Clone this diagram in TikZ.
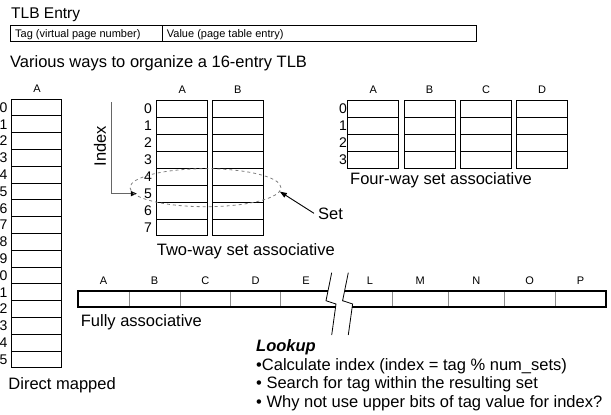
\documentclass[tikz,border=0pt]{standalone}
\usepackage{fontspec}
\setmainfont{Liberation Sans}
\usetikzlibrary{arrows.meta,shapes.geometric}
\newcommand\fsz[1]{\fontsize{#1}{#1}\selectfont}
\begin{document}
\begin{tikzpicture}[x=1pt,y=-1pt,
  big/.style={font=\fsz{16.5}, inner sep=0pt, anchor=base west},
  small/.style={font=\fsz{11}, inner sep=0pt},
  digit/.style={font=\fsz{14}, inner sep=0pt},
  cell/.style={line width=0.9pt, draw=black},
  thickbox/.style={line width=2pt, draw=black},
  divider/.style={line width=1pt, draw=black!45},
  zig/.style={line width=0.8pt, draw=black},
  tipA/.style={-{Triangle[length=6pt,width=5pt,color=black]}},
]
\useasboundingbox (0,0) rectangle (611,415);

% TLB entry
\node[big, font=\fsz{15.5}] (entry) at (11,18.3) {TLB Entry};
\draw[cell] (10,25) rectangle (476,41.7);
\draw[cell] (162,25) -- (162,41.7);
\node[small, anchor=base west] (tagtxt) at (15,37.3) {Tag (virtual page number)};
\node[small, anchor=base west] (valtxt) at (166.7,37.3) {Value (page table entry)};

\node[big] (various) at (10,67) {Various ways to organize a 16-entry TLB};

% Direct mapped
\node[small] (dmA) at (37,88.3) {A};
\foreach \i in {0,...,15} {
  \draw[cell] (11,{99+\i*16.8}) rectangle (61.7,{99+(\i+1)*16.8});
  \pgfmathtruncatemacro\d{mod(\i,10)}
  \node[digit] (dm\i) at (3.5,{99+(\i+0.5)*16.8}) {\d};
}
\node[big] (dmcap) at (8.3,389.2) {Direct mapped};

% Two-way set associative
\foreach \c/\x in {A/156.7,B/212.3} {
  \node[small] (tw\c) at ({\x+25.5},90) {\c};
  \foreach \i in {0,...,7} {
    \draw[cell] (\x,{100.7+\i*16.9}) rectangle ({\x+51},{100.7+(\i+1)*16.9});
  }
}
\foreach \i in {0,...,7} {
  \node[digit] (tw\i) at (148,{100.7+(\i+0.5)*16.9}) {\i};
}
\node[big] (twcap) at (156.7,255.9) {Two-way set associative};

% Index arrow
\node[big, rotate=90, anchor=center] (idx) at (100,146) {Index};
\coordinate (idxtop) at (111.7,102);
\draw[line width=1pt, draw=black!60, tipA, shorten >=7pt] (idxtop) |- (tw5);

% Set ellipse
\node[ellipse, draw=black!50, dashed, line width=0.8pt, minimum width=151pt,
      minimum height=38pt, inner sep=0pt] (setell) at (205.5,187.7) {};
\node[big] (setlbl) at (318,219) {Set};
\draw[line width=0.9pt, -{Triangle[length=7pt,width=5pt]}] ([xshift=-4pt]setlbl.west) -- (setell.-3);

% Four-way set associative
\foreach \c/\x in {A/347.7,B/404,C/460.7,D/516.7} {
  \node[small] (fw\c) at ({\x+25.5},90) {\c};
  \foreach \i in {0,...,3} {
    \draw[cell] (\x,{100.7+\i*16.9}) rectangle ({\x+51},{100.7+(\i+1)*16.9});
  }
}
\foreach \i in {0,...,3} {
  \node[digit] (fw\i) at (343,{100.7+(\i+0.5)*16.9}) {\i};
}
\node[big] (fwcap) at (350,184.2) {Four-way set associative};

% Fully associative
\foreach \x in {129,180,230.7,280.7,392.3,448.3,504.3,555} {
  \draw[divider] (\x,290.7) -- (\x,307.3);
}
\draw[thickbox] (328,290.7) -- (78.3,290.7) -- (78.3,307.3) -- (335.5,307.3);
\draw[thickbox] (344.6,290.7) -- (606,290.7) -- (606,307.3) -- (352.1,307.3);
\draw[zig] (331.7,272.7) -- (326,300.7) -- (336,304) -- (331.7,335);
\draw[zig] (348.3,272.7) -- (342.6,300.7) -- (352.6,304) -- (348.3,335);
\foreach \c/\x in {A/103.6,B/154.5,C/205.4,D/255.7,E/306,L/370,M/420.3,N/476.3,O/529.7,P/580.5} {
  \node[small] (fa\c) at (\x,280.7) {\c};
}
\node[big] (facap) at (80.7,326.6) {Fully associative};

% Lookup
\node[big, font=\fsz{16.5}\bfseries\itshape] (lookup) at (256,351) {Lookup};
\node[big] (b1) at (256,370) {•Calculate index (index = tag \% num\_sets)};
\node[big] (b2) at (256,388.2) {• Search for tag within the resulting set};
\node[big] (b3) at (256,407) {• Why not use upper bits of tag value for index?};
\end{tikzpicture}
\end{document}
